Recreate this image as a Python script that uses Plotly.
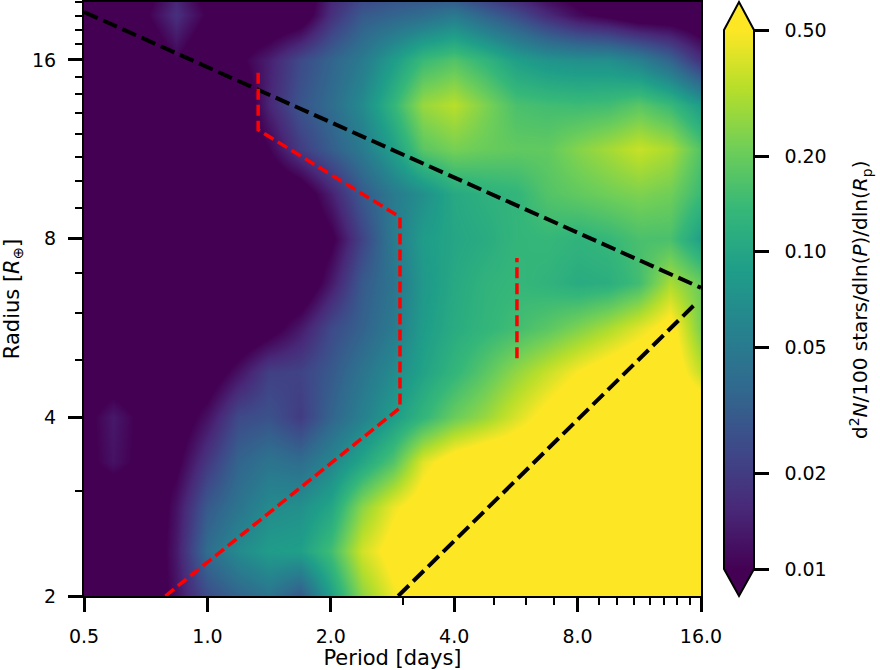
import numpy as np
import plotly.graph_objects as go

# grid centres, quarter octave steps
periods = [0.5, 0.59, 0.71, 0.84, 1.0, 1.19, 1.41, 1.68, 2.0, 2.38, 2.83,
           3.36, 4.0, 4.76, 5.66, 6.73, 8.0, 9.51, 11.31, 13.45, 16.0]
radii = [2.0, 2.38, 2.83, 3.36, 4.0, 4.76, 5.66, 6.73, 8.0, 9.51, 11.31,
         13.45, 16.0, 19.03, 22.63]

# occurrence rate per row
r_02_00 = [.006, .006, .006, .012, .025, .035, .045, .03, .09, .25, .45, .6, .7, .8, .8, .8, .8, .8, .8, .8, .8]
r_02_38 = [.006, .006, .006, .013, .04, .065, .085, .09, .15, .38, .6, .8, .8, .8, .8, .8, .8, .8, .8, .8, .8]
r_02_83 = [.006, .006, .006, .012, .03, .045, .065, .07, .1, .25, .45, .65, .8, .8, .8, .8, .8, .8, .8, .8, .8]
r_03_36 = [.0085, .012, .0085, .009, .019, .035, .045, .04, .06, .1, .17, .42, .65, .8, .8, .8, .8, .8, .8, .8, .8]
r_04_00 = [.0085, .013, .0085, .007, .012, .024, .027, .02, .035, .055, .085, .13, .2, .27, .4, .58, .8, .8, .8, .8, .8]
r_04_76 = [.006, .007, .006, .006, .007, .012, .021, .022, .03, .045, .065, .095, .13, .18, .26, .36, .5, .65, .8, .7, .35]
r_05_66 = [.006, .006, .006, .006, .006, .006, .008, .013, .024, .034, .05, .085, .11, .13, .15, .18, .23, .3, .42, .6, .22]
r_06_73 = [.006, .006, .006, .006, .006, .006, .006, .006, .013, .03, .045, .08, .105, .125, .135, .125, .11, .115, .15, .3, .2]
r_08_00 = [.006, .006, .006, .006, .006, .006, .006, .006, .009, .022, .05, .085, .1, .11, .13, .135, .125, .135, .16, .16, .09]
r_09_51 = [.006, .006, .006, .006, .006, .006, .006, .007, .014, .03, .05, .07, .105, .12, .13, .17, .19, .21, .23, .21, .14]
r_11_31 = [.006, .006, .006, .006, .006, .006, .01, .02, .032, .05, .09, .18, .22, .2, .19, .19, .24, .29, .36, .3, .17]
r_13_45 = [.006, .006, .006, .006, .006, .006, .015, .028, .04, .065, .13, .27, .33, .23, .16, .15, .145, .15, .18, .14, .085]
r_16_00 = [.006, .006, .006, .01, .006, .009, .014, .024, .035, .05, .085, .14, .17, .13, .09, .075, .07, .07, .055, .035, .017]
r_19_03 = [.006, .006, .0095, .017, .0095, .006, .006, .007, .017, .03, .035, .04, .05, .035, .025, .016, .011, .009, .007, .007, .006]
r_22_63 = [.006, .006, .007, .012, .007, .006, .006, .006, .012, .015, .018, .017, .012, .009, .007, .006, .006, .006, .006, .006, .006]

rates = [r_02_00, r_02_38, r_02_83, r_03_36, r_04_00, r_04_76, r_05_66, r_06_73,
         r_08_00, r_09_51, r_11_31, r_13_45, r_16_00, r_19_03, r_22_63]

# boundary lines
black_upper_p = [0.5, 16.0]
black_upper_r = [19.27, 6.61]
black_lower_p = [2.92, 15.5]
black_lower_r = [2.0, 6.21]
red_outer_p = [0.79, 2.95, 2.95, 1.33, 1.33]
red_outer_r = [2.0, 4.15, 8.7, 12.2, 15.5]
red_inner_p = [5.69, 5.69]
red_inner_r = [5.03, 7.42]

x_ticks = [0.5, 1, 2, 4, 8, 16]
x_labels = ["0.5", "1.0", "2.0", "4.0", "8.0", "16.0"]
x_minor = [3, 5, 6, 7, 9, 10, 11, 12, 13, 14, 15]
y_ticks = [2, 4, 8, 16]
y_labels = ["2", "4", "8", "16"]
y_minor = [3, 5, 6, 7, 9, 10, 11, 12, 13, 14, 15, 17, 18, 19, 20]
cbar_ticks = [0.01, 0.02, 0.05, 0.10, 0.20, 0.50]
cbar_labels = ["0.01", "0.02", "0.05", "0.10", "0.20", "0.50"]

FONT = "DejaVu Sans"
W, H = 880, 670
L, R, T, B = 84, 701, 2, 596


def px(x):
    return (x - L) / (R - L)


def py(y):
    return (B - y) / (B - T)


def path(points):
    return "M" + " L".join(f"{px(a):.5f},{py(b):.5f}" for a, b in points) + " Z"


fig = go.Figure()

fig.add_trace(go.Heatmap(
    x=periods,
    y=radii,
    z=np.log10(np.array(rates)),
    zmin=np.log10(0.01),
    zmax=np.log10(0.5),
    zsmooth="best",
    colorscale="Viridis",
    hoverinfo="skip",
    colorbar=dict(
        lenmode="pixels", len=539,
        thicknessmode="pixels", thickness=28,
        x=px(725), xanchor="left", xpad=0,
        y=py(569), yanchor="bottom", ypad=0,
        outlinewidth=0,
        tickmode="array",
        tickvals=np.log10(cbar_ticks),
        # nbsp keeps the labels clear of the long ticks, no standoff on colorbars
        ticktext=["\u00a0\u00a0" + t for t in cbar_labels],
        ticks="outside", ticklen=16, tickwidth=3, tickcolor="black",
        tickfont=dict(family=FONT, size=19, color="black"),
    ),
))

for xs, ys, color, width, dash in [
    (black_upper_p, black_upper_r, "black", 4, "15px,6px"),
    (black_lower_p, black_lower_r, "black", 4, "15px,6px"),
    (red_outer_p, red_outer_r, "red", 3.5, "11px,5px"),
    (red_inner_p, red_inner_r, "red", 3.5, "11px,5px"),
]:
    fig.add_trace(go.Scatter(x=xs, y=ys, mode="lines", showlegend=False, hoverinfo="skip",
                             line=dict(color=color, width=width, dash=dash)))

# colorbar extend arrows and outline
fig.add_shape(type="path", xref="paper", yref="paper", layer="above",
              path=path([(724.5, 30), (739, 2), (753.5, 30)]),
              fillcolor="#fde725", line=dict(width=0))
fig.add_shape(type="path", xref="paper", yref="paper", layer="above",
              path=path([(724.5, 569), (739, 596), (753.5, 569)]),
              fillcolor="#440154", line=dict(width=0))
fig.add_shape(type="path", xref="paper", yref="paper", layer="above",
              path=path([(724, 30), (739, 2), (754, 30), (754, 569), (739, 596), (724, 569)]),
              line=dict(color="black", width=2))

# colorbar title, placed by hand because the built in one sits too close
fig.add_annotation(
    text="d<sup>2</sup><i>N</i>/100 stars/dln(<i>P</i>)/dln(<i>R</i><sub>p</sub>)",
    xref="paper", yref="paper", x=px(860), y=py(300),
    xanchor="center", yanchor="middle", textangle=-90, showarrow=False,
    font=dict(family=FONT, size=20, color="black"),
)

axis_common = dict(
    type="log",
    tickmode="array",
    ticks="outside", ticklen=14, tickwidth=3, tickcolor="black",
    ticklabelstandoff=8,
    showline=True, linecolor="black", linewidth=2, mirror=True,
    showgrid=False, zeroline=False,
    tickfont=dict(family=FONT, size=19, color="black"),
)

fig.update_xaxes(
    **axis_common,
    range=[np.log10(0.5), np.log10(16)],
    tickvals=x_ticks, ticktext=x_labels,
    minor=dict(tickmode="array", tickvals=x_minor, ticks="outside", ticklen=7, tickwidth=2,
               tickcolor="black", showgrid=False),
    title=dict(text="Period [days]", font=dict(family=FONT, size=21, color="black"), standoff=0),
)
fig.update_yaxes(
    **axis_common,
    range=[np.log10(2), np.log10(20.03)],
    tickvals=y_ticks, ticktext=y_labels,
    minor=dict(tickmode="array", tickvals=y_minor, ticks="outside", ticklen=7, tickwidth=2,
               tickcolor="black", showgrid=False),
    title=dict(text="Radius [<i>R</i><sub>⊕</sub>]", font=dict(family=FONT, size=21, color="black"), standoff=8),
)

fig.update_layout(
    width=W, height=H,
    margin=dict(l=L, r=W - R, t=T, b=H - B, autoexpand=False),
    paper_bgcolor="white",
    plot_bgcolor="white",
    showlegend=False,
)

# the page's default body margin would push the chart 8px in
fig.write_html("out.html", config=dict(displayModeBar=False),
               post_script="document.body.style.margin='0';")
